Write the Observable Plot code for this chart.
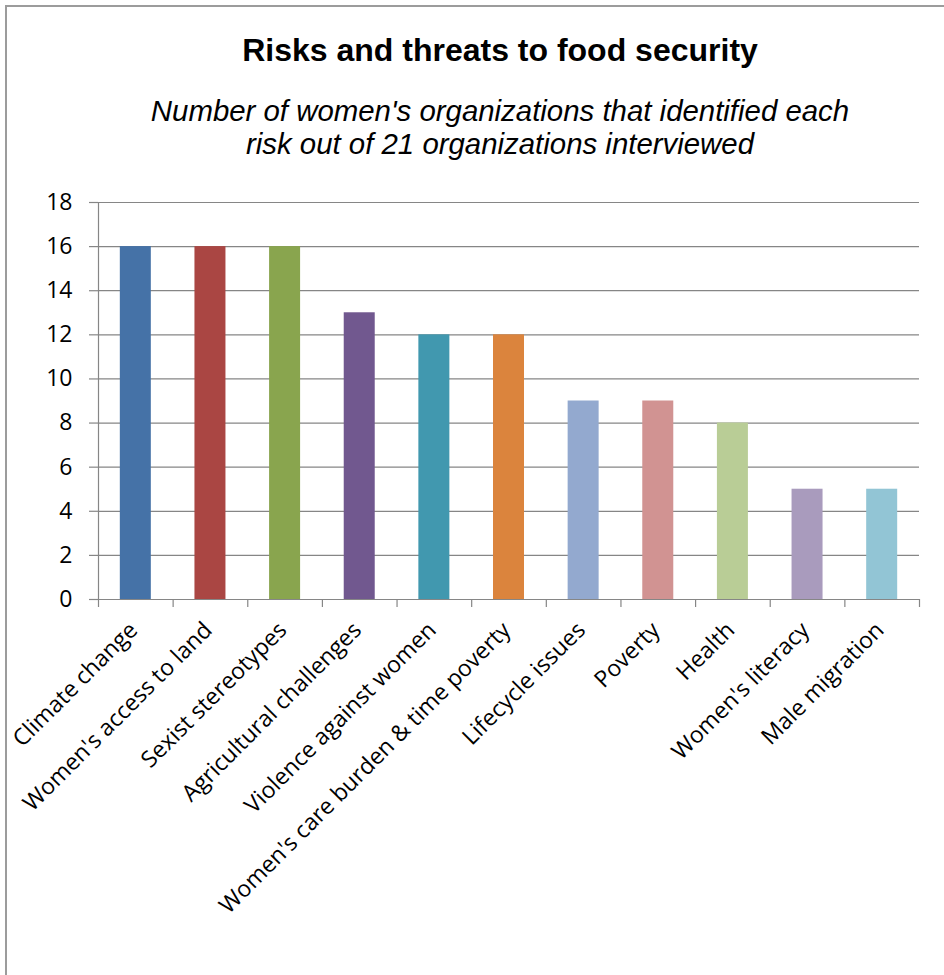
<!DOCTYPE html>
<html>
<head>
<meta charset="utf-8">
<script src="https://cdn.jsdelivr.net/npm/d3@7"></script>
<script src="https://cdn.jsdelivr.net/npm/@observablehq/plot@0.6"></script>
<style>
  html, body { margin: 0; padding: 0; background: #fff; overflow: hidden; }
  #page { position: relative; width: 944px; height: 975px; overflow: hidden; }
  #frame { position: absolute; left: 5px; top: 5px; width: 1000px; height: 1000px;
           border-left: 2px solid #9c9c9c; border-top: 2px solid #9c9c9c; }
  #title { position: absolute; left: 56px; width: 888px; top: 30px; text-align: center;
           font-family: "Liberation Sans", Arial, sans-serif; font-weight: bold; font-size: 32px; line-height: 40px; color: #000; }
  #subtitle { position: absolute; left: 56px; width: 888px; top: 94px; text-align: center;
           font-family: "Liberation Sans", Arial, sans-serif; font-style: italic; font-size: 29.4px; line-height: 33px; color: #000; }
  #chart { position: absolute; left: 0; top: 165px; }
</style>
</head>
<body>
<div id="page">
  <div id="frame"></div>
  <div id="title">Risks and threats to food security</div>
  <div id="subtitle">Number of women's organizations that identified each<br>risk out of 21 organizations interviewed</div>
  <div id="chart"></div>
</div>
<script>
const categories = [
  "Climate change",
  "Women's access to land",
  "Sexist stereotypes",
  "Agricultural challenges",
  "Violence against women",
  "Women's care burden & time poverty",
  "Lifecycle issues",
  "Poverty",
  "Health",
  "Women's literacy",
  "Male migration"
];
const values = [16, 16, 16, 13, 12, 12, 9, 9, 8, 5, 5];
const colors = ["#4572a7", "#aa4643", "#89a54e", "#71588f", "#4198af", "#db843d",
                "#93a9cf", "#d19392", "#b9cd96", "#a99bbd", "#92c5d5"];
const yTicks = [0, 2, 4, 6, 8, 10, 12, 14, 16, 18];

const rows = categories.map((c, i) => ({cat: c, value: values[i]}));

const W = 944, H = 810;
const mL = 98, mR = 25, mT = 37, mB = 376;
const step = (W - mL - mR) / categories.length;
const barW = 31;
const inset = (step - barW) / 2;
const gray = "#868686";
const font = "'Open Sans', sans-serif";

const chart = Plot.plot({
  width: W,
  height: H,
  marginLeft: mL,
  marginRight: mR,
  marginTop: mT,
  marginBottom: mB,
  style: {fontFamily: font, fontSize: "23px", color: "#000", background: "transparent"},
  x: {domain: categories, padding: 0, round: false, axis: null},
  y: {domain: [0, 18], axis: null},
  color: {domain: categories, range: colors},
  marks: [
    Plot.gridY(yTicks, {stroke: gray, strokeOpacity: 1, strokeWidth: 1.2}),
    Plot.axisY(yTicks, {tickSize: 9, tickPadding: 17, stroke: gray, strokeOpacity: 1, strokeWidth: 1.2, fontSize: 23, fill: "#000", label: null}),
    Plot.barY(rows, {x: "cat", y: "value", fill: "cat", insetLeft: inset, insetRight: inset}),
    // y axis line
    Plot.ruleX([categories[0]], {x: d => d, y1: 0, y2: 18, dx: -step / 2, stroke: gray, strokeWidth: 1.2}),
    // category boundary ticks
    Plot.ruleX(categories, {x: d => d, y1: 0, y2: 0, insetTop: 8, dx: -step / 2, stroke: gray, strokeWidth: 1.2}),
    Plot.ruleX([categories[categories.length - 1]], {x: d => d, y1: 0, y2: 0, insetTop: 8, dx: step / 2, stroke: gray, strokeWidth: 1.2}),
    Plot.ruleY([0], {stroke: gray, strokeWidth: 1.2}),
    Plot.text(rows, {x: "cat", text: "cat", frameAnchor: "bottom", rotate: -45, textAnchor: "end",
                     dx: 3, dy: 32, fontSize: 23, fill: "#000"})
  ]
});
document.getElementById("chart").appendChild(chart);
</script>
</body>
</html>
